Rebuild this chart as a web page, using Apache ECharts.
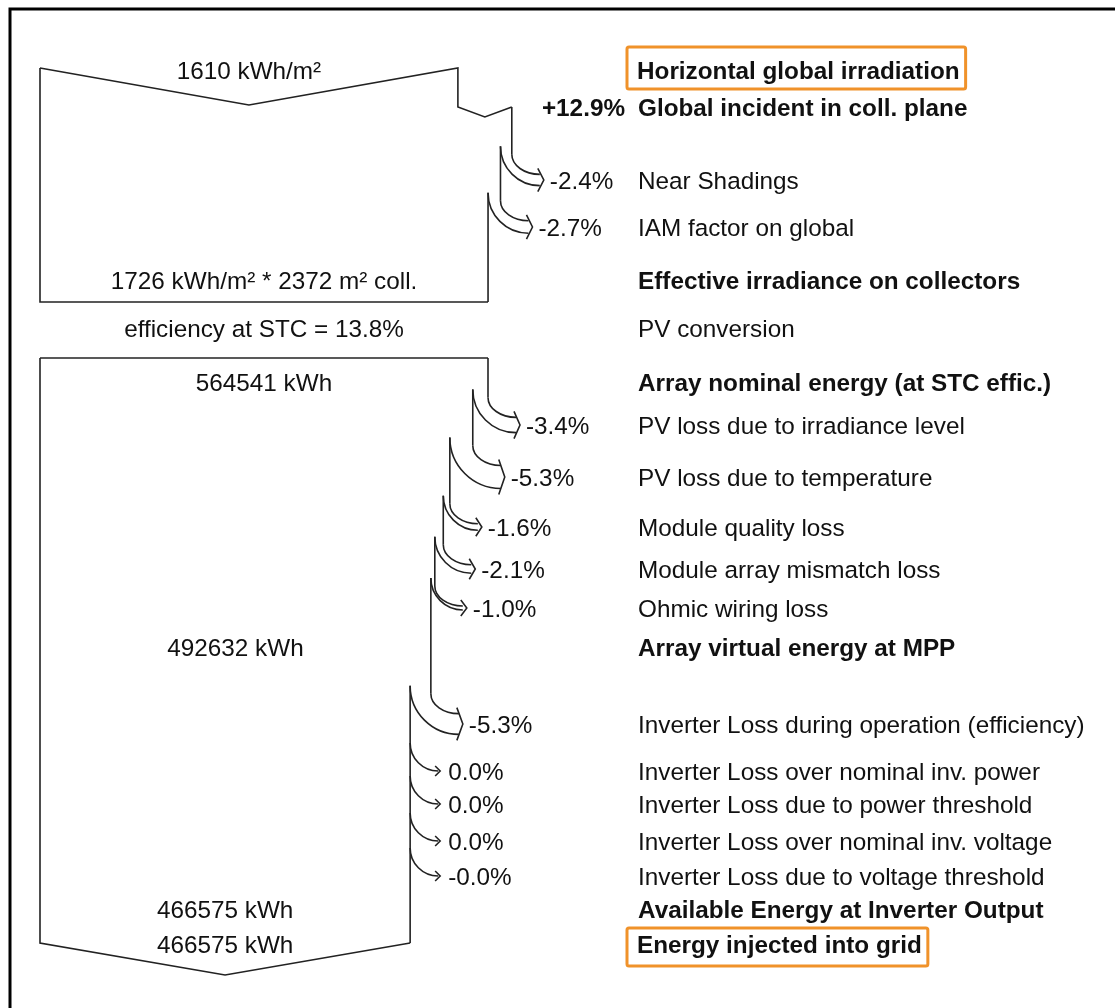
<!DOCTYPE html>
<html><head><meta charset="utf-8">
<script src="https://cdn.jsdelivr.net/npm/echarts@6/dist/echarts.min.js"></script>
<style>html,body{margin:0;padding:0;background:#fff}#c{width:1115px;height:1008px}</style>
</head><body><div id="c"></div>
<script>
// ---------------- data ----------------
const horizontalGlobal = 1610;          // kWh/m²
const transpositionGainPct = 12.9;      // %
const irradianceLossLabels = ['Near Shadings', 'IAM factor on global'];
const irradianceLossPct = [-2.4, -2.7];
const effectiveIrradiance = 1726;       // kWh/m²
const collectorArea = 2372;             // m²
const stcEfficiency = 13.8;             // %
const nominalEnergy = 564541;           // kWh
const arrayLossLabels = ['PV loss due to irradiance level', 'PV loss due to temperature',
  'Module quality loss', 'Module array mismatch loss', 'Ohmic wiring loss'];
const arrayLossPct = [-3.4, -5.3, -1.6, -2.1, -1.0];
const virtualEnergy = 492632;           // kWh
const inverterLossLabels = ['Inverter Loss during operation (efficiency)', 'Inverter Loss over nominal inv. power',
  'Inverter Loss due to power threshold', 'Inverter Loss over nominal inv. voltage',
  'Inverter Loss due to voltage threshold'];
const inverterLossPct = [-5.3, 0.0, 0.0, 0.0, -0.0];
const availableEnergy = 466575;         // kWh
const injectedEnergy = 466575;          // kWh
const stepTitles = {
  horiz: 'Horizontal global irradiation', incident: 'Global incident in coll. plane',
  effective: 'Effective irradiance on collectors', conversion: 'PV conversion',
  nominal: 'Array nominal energy (at STC effic.)', virtual: 'Array virtual energy at MPP',
  available: 'Available Energy at Inverter Output', injected: 'Energy injected into grid'
};

// ---------------- layout (row positions on the vertical axis, px) ----------------
const rowY = {
  horiz: 71, incident: 108, irrLoss: [180, 227], effective: 281, conversion: 329, nominal: 383,
  arrayLoss: [425, 477, 527, 569, 608], virtual: 648, invLoss: [724, 771, 804, 841, 876],
  available: 910, injected: 945
};
const TOP_Y = 68, TOP_V = 37, TOP_BOTTOM = 302, BOT_TOP = 358, BOT_BOTTOM = 943, BOT_V = 32, GAIN_V = 10;
const LABEL_X = 638, ARROW_R = 28, TEXT_DY = 1, BOX_LH = 26;
const FONT = '24.3px "Liberation Sans", Arial, sans-serif';
const BOLD = 'bold 24.3px "Liberation Sans", Arial, sans-serif';
const INK = '#111';
const LINE = { stroke: '#222', lineWidth: 1.6, fill: null };
const ORANGE = '#F0922A';

function fmtPct(v) {
  if (v > 0) return '+' + v.toFixed(1) + '%';
  if (v < 0 || Object.is(v, -0)) return '-' + Math.abs(v).toFixed(1) + '%';
  return v.toFixed(1) + '%';
}
function fmtInt(v) { return String(v); }

function renderDiagram(params, api) {
  const ch = [];
  const X = f => api.coord([f, 0])[0];
  const Y = y => api.coord([0, y])[1];
  const x0px = X(0);
  const text = (t, x, y, opts) => ch.push({
    type: 'text', x: x, y: y + TEXT_DY,
    style: Object.assign({ text: t, fill: INK, font: FONT, textAlign: 'left', textVerticalAlign: 'middle' }, opts || {})
  });
  // boxed title: top-aligned box, text line centred on the row
  const boxed = (t, y, padTop, padBottom) => ch.push({
    type: 'text', x: LABEL_X - 11, y: y + TEXT_DY - padTop - BOX_LH / 2,
    style: { text: t, fill: INK, font: BOLD, lineHeight: BOX_LH, textAlign: 'left', textVerticalAlign: 'top',
      borderColor: ORANGE, borderWidth: 3, borderRadius: 2, padding: [padTop, 6, padBottom, 10] }
  });
  const poly = pts => ch.push({ type: 'polyline', shape: { points: pts }, style: LINE });
  const vline = (x, ya, yb) => { if (yb > ya) poly([[x, ya], [x, yb]]); };
  const curve = (xs, ys, xe, ye) => {
    const k = 0.552;
    ch.push({ type: 'bezierCurve', shape: {
      x1: xs, y1: ys, x2: xe, y2: ye,
      cpx1: xs, cpy1: ys + k * (ye - ys), cpx2: xe - k * (xe - xs), cpy2: ye
    }, style: LINE });
  };
  // draws one loss arrow off a vertical edge; returns the new edge state
  function loss(edge, fNew, yc, pct, label) {
    const xOld = edge.x, xNew = X(fNew);
    const w = xOld - xNew;
    const xa = xOld + ARROW_R;
    if (w >= 0.6) {
      const yTop = yc - w / 2, yBot = yc + w / 2;
      const yInner = yBot - (xa - xNew);
      const yOuter = yTop - 20;
      vline(xOld, edge.y, yOuter);
      curve(xOld, yOuter, xa, yTop);
      curve(xNew, yInner, xa, yBot);
      poly([[xa - 2, yTop - 6], [xa + 4, yc], [xa - 2, yBot + 6]]);
      edge = { x: xNew, y: yInner, f: fNew };
    } else {
      curve(xOld, yc - (xa - xOld), xa, yc);
      poly([[xa - 3, yc - 5], [xa + 2, yc], [xa - 3, yc + 5]]);
      edge = { x: xOld, y: edge.y, f: fNew };
    }
    text(fmtPct(pct), xa + 10, Y(yc + 1));
    text(label, LABEL_X, Y(yc + 1));
    return edge;
  }

  // ---------- irradiation block ----------
  const fH = horizontalGlobal / effectiveIrradiance;
  const fG = fH * (1 + transpositionGainPct / 100);
  const xH = X(fH), xG = X(fG);
  const gainY = Y(rowY.incident - 1);
  poly([[x0px, Y(TOP_Y)], [(x0px + xH) / 2, Y(TOP_Y + TOP_V)], [xH, Y(TOP_Y)], [xH, gainY],
        [(xH + xG) / 2, gainY + GAIN_V], [xG, gainY]]);
  let edge = { x: xG, y: gainY, f: fG };
  irradianceLossPct.forEach((p, i) => {
    edge = loss(edge, edge.f * (1 + p / 100), Y(rowY.irrLoss[i]), p, irradianceLossLabels[i]);
  });
  vline(edge.x, edge.y, Y(TOP_BOTTOM));
  poly([[edge.x, Y(TOP_BOTTOM)], [x0px, Y(TOP_BOTTOM)], [x0px, Y(TOP_Y)]]);
  const xEff = edge.x;

  text(horizontalGlobal + ' kWh/m²', (x0px + xH) / 2, Y(rowY.horiz), { textAlign: 'center' });
  text(effectiveIrradiance + ' kWh/m² * ' + collectorArea + ' m² coll.', (x0px + xEff) / 2, Y(rowY.effective), { textAlign: 'center' });
  text('efficiency at STC = ' + stcEfficiency.toFixed(1) + '%', (x0px + xEff) / 2, Y(rowY.conversion), { textAlign: 'center' });
  boxed(stepTitles.horiz, Y(rowY.horiz), 12, 4);
  text(fmtPct(transpositionGainPct), LABEL_X - 13, Y(rowY.incident), { font: BOLD, textAlign: 'right' });
  text(stepTitles.incident, LABEL_X, Y(rowY.incident), { font: BOLD });
  text(stepTitles.effective, LABEL_X, Y(rowY.effective), { font: BOLD });
  text(stepTitles.conversion, LABEL_X, Y(rowY.conversion));

  // ---------- energy block ----------
  const xN = X(nominalEnergy / nominalEnergy);
  poly([[x0px, Y(BOT_TOP)], [xN, Y(BOT_TOP)]]);
  edge = { x: xN, y: Y(BOT_TOP), f: 1 };
  arrayLossPct.forEach((p, i) => {
    edge = loss(edge, edge.f * (1 + p / 100), Y(rowY.arrayLoss[i]), p, arrayLossLabels[i]);
  });
  const xVirt = X(virtualEnergy / nominalEnergy);
  inverterLossPct.forEach((p, i) => {
    edge = loss(edge, edge.f * (1 + p / 100), Y(rowY.invLoss[i]), p, inverterLossLabels[i]);
  });
  const xOut = edge.x;
  vline(xOut, edge.y, Y(BOT_BOTTOM));
  poly([[xOut, Y(BOT_BOTTOM)], [(x0px + xOut) / 2, Y(BOT_BOTTOM + BOT_V)], [x0px, Y(BOT_BOTTOM)], [x0px, Y(BOT_TOP)]]);

  text(fmtInt(nominalEnergy) + ' kWh', (x0px + xN) / 2, Y(rowY.nominal), { textAlign: 'center' });
  text(fmtInt(virtualEnergy) + ' kWh', (x0px + xVirt) / 2, Y(rowY.virtual), { textAlign: 'center' });
  text(fmtInt(availableEnergy) + ' kWh', (x0px + X(availableEnergy / nominalEnergy)) / 2, Y(rowY.available), { textAlign: 'center' });
  text(fmtInt(injectedEnergy) + ' kWh', (x0px + X(injectedEnergy / nominalEnergy)) / 2, Y(rowY.injected), { textAlign: 'center' });
  text(stepTitles.nominal, LABEL_X, Y(rowY.nominal), { font: BOLD });
  text(stepTitles.virtual, LABEL_X, Y(rowY.virtual), { font: BOLD });
  text(stepTitles.available, LABEL_X, Y(rowY.available), { font: BOLD });
  boxed(stepTitles.injected, Y(rowY.injected), 5, 7);

  return { type: 'group', children: ch };
}

const chart = echarts.init(document.getElementById('c'), null, { renderer: 'canvas' });
chart.setOption({
  animation: false,
  backgroundColor: '#fff',
  grid: { left: 40, top: 0, width: 448, height: 1008, containLabel: false },
  xAxis: { type: 'value', min: 0, max: 1, show: false },
  yAxis: { type: 'value', min: 0, max: 1008, inverse: true, show: false },
  graphic: [{
    type: 'rect', shape: { x: 10, y: 9, width: 1300, height: 1200 },
    style: { fill: 'none', stroke: '#000', lineWidth: 3 }, silent: true
  }],
  series: [{
    type: 'custom', coordinateSystem: 'cartesian2d', silent: true, clip: false,
    data: [[0, 0]], renderItem: renderDiagram
  }]
});
</script></body></html>
